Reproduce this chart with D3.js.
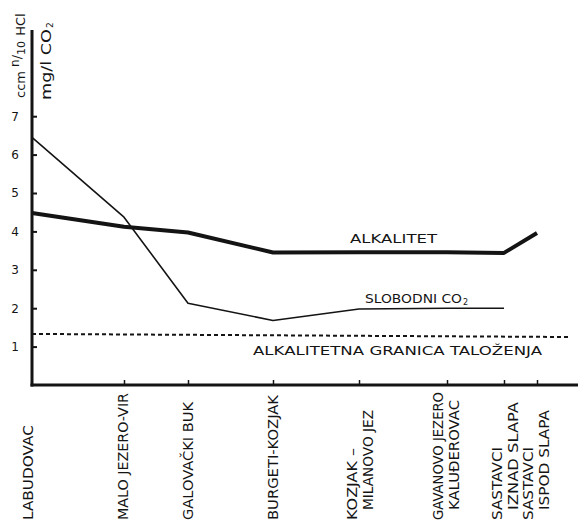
<!DOCTYPE html>
<html>
<head>
<meta charset="utf-8">
<script src="https://cdn.jsdelivr.net/npm/d3@7/dist/d3.min.js"></script>
<style>
  html, body { margin: 0; padding: 0; background: #fff; }
  svg { display: block; }
  text { font-family: "DejaVu Sans", "Liberation Sans", sans-serif; fill: #141414; }
</style>
</head>
<body>
<svg id="chart" width="578" height="523"></svg>
<script>
// Sampling stations along the lake chain (distance along the course, km)
const stations = [
  ["LABUDOVAC"],
  ["MALO JEZERO-VIR"],
  ["GALOVAČKI BUK"],
  ["BURGETI-KOZJAK"],
  ["KOZJAK –", "MILANOVO JEZ"],
  ["GAVANOVO JEZERO", "KALUĐEROVAC"],
  ["SASTAVCI", "IZNAD SLAPA"],
  ["SASTAVCI", "ISPOD SLAPA"]
];
const stationKm = [0, 2.3, 3.9, 6.025, 8.175, 10.375, 11.8, 12.625];

// Alkalinity (ccm n/10 HCl) and free CO2 (mg/l)
const alkalitet = [4.48, 4.12, 3.97, 3.45, 3.46, 3.46, 3.44, 3.96];
const slobodniCO2 = [6.45, 4.37, 2.13, 1.68, 1.98, 2.0, 2.0];

// Precipitation limit of alkalinity (start and end of the course)
const granicaKm = [0, 13.4];
const granica = [1.33, 1.25];

const yTicks = [1, 2, 3, 4, 5, 6, 7];

const svg = d3.select("#chart");
const ink = "#141414";

const x = d3.scaleLinear().domain([0, 13.65]).range([32, 578]);
const y = d3.scaleLinear().domain([0, 7]).range([385, 116.2]);

// Axes: ticks point inwards, axis lines drawn separately
const yAxis = svg.append("g")
  .attr("transform", `translate(${x(0)},0)`)
  .call(d3.axisLeft(y).tickValues(yTicks).tickSize(-5).tickPadding(13).tickFormat(d3.format("d")));
yAxis.select(".domain").remove();
yAxis.selectAll(".tick line").attr("stroke", ink).attr("stroke-width", 2);
yAxis.selectAll(".tick text")
  .attr("font-size", 12).attr("font-family", "DejaVu Sans Condensed, DejaVu Sans, sans-serif")
  .attr("fill", ink);

const xAxis = svg.append("g")
  .attr("transform", `translate(0,${y(0)})`)
  .call(d3.axisBottom(x).tickValues(stationKm.slice(1)).tickSize(-5).tickFormat(""));
xAxis.select(".domain").remove();
xAxis.selectAll(".tick line").attr("stroke", ink).attr("stroke-width", 1.5);

// Axis lines (vertical one runs up to form the unit fraction bar)
svg.append("line")
  .attr("x1", x(0)).attr("x2", x(0))
  .attr("y1", 30).attr("y2", y(0) + 1.5)
  .attr("stroke", ink).attr("stroke-width", 3);
svg.append("line")
  .attr("x1", x(0) - 1.5).attr("x2", 578)
  .attr("y1", y(0)).attr("y2", y(0))
  .attr("stroke", ink).attr("stroke-width", 3);

// Unit label: ccm n/10 HCl over mg/l CO2
const unitL = svg.append("text")
  .attr("transform", "translate(25,98) rotate(-90)")
  .attr("font-size", 13);
unitL.append("tspan").text("ccm ");
unitL.append("tspan").attr("font-size", 12).attr("dy", -6).text("n");
unitL.append("tspan").attr("dy", 2).text("/");
unitL.append("tspan").attr("font-size", 11).attr("dy", 4).text("10");
unitL.append("tspan").attr("dx", 1).text(" HCl");

svg.append("text")
  .attr("transform", "translate(51,100) rotate(-90)")
  .attr("font-size", 14)
  .attr("textLength", 71).attr("lengthAdjust", "spacingAndGlyphs")
  .text("mg/l CO");
svg.append("text")
  .attr("transform", "translate(53,28) rotate(-90)")
  .attr("font-size", 9)
  .text("2");

// Series lines
const lineOf = (vals) => d3.line()
  .x((d, i) => x(stationKm[i]))
  .y(d => y(d))(vals);

svg.append("path")
  .attr("d", lineOf(slobodniCO2))
  .attr("fill", "none").attr("stroke", ink)
  .attr("stroke-width", 1.6).attr("stroke-linejoin", "round");

svg.append("path")
  .attr("d", lineOf(alkalitet))
  .attr("fill", "none").attr("stroke", ink)
  .attr("stroke-width", 4).attr("stroke-linejoin", "round");

svg.append("path")
  .attr("d", d3.line().x((d, i) => x(granicaKm[i])).y(d => y(d))(granica))
  .attr("fill", "none").attr("stroke", ink)
  .attr("stroke-width", 2).attr("stroke-dasharray", "4,3");

// Series captions
svg.append("text")
  .attr("x", 350).attr("y", 243)
  .attr("font-size", 13).attr("textLength", 87).attr("lengthAdjust", "spacingAndGlyphs")
  .text("ALKALITET");

svg.append("text")
  .attr("x", 365).attr("y", 303)
  .attr("font-size", 13).attr("textLength", 97).attr("lengthAdjust", "spacingAndGlyphs")
  .text("SLOBODNI CO");
svg.append("text")
  .attr("x", 463).attr("y", 305)
  .attr("font-size", 8)
  .text("2");

svg.append("text")
  .attr("x", 253).attr("y", 355)
  .attr("font-size", 13).attr("textLength", 289).attr("lengthAdjust", "spacingAndGlyphs")
  .text("ALKALITETNA GRANICA TALOŽENJA");

// Station names, rotated, reading upwards from the bottom edge
const labelLen = {
  "LABUDOVAC": 95, "MALO JEZERO-VIR": 127, "GALOVAČKI BUK": 118, "BURGETI-KOZJAK": 125,
  "KOZJAK –": 72, "MILANOVO JEZ": 100, "GAVANOVO JEZERO": 128, "KALUĐEROVAC": 110,
  "IZNAD SLAPA": 108, "SASTAVCI": 73, "ISPOD SLAPA": 100
};
const labelX = [28, 123, 188, 273, 352, 438, 497, 528];

stations.forEach((lines, i) => {
  lines.forEach((name, j) => {
    const cx = labelX[i] + j * 16;
    const by = j === 0 ? 520 : 510;
    svg.append("text")
      .attr("transform", `translate(${cx + 5},${by}) rotate(-90)`)
      .attr("font-size", 14)
      .attr("textLength", labelLen[name])
      .attr("lengthAdjust", "spacingAndGlyphs")
      .text(name);
  });
});
</script>
</body>
</html>
